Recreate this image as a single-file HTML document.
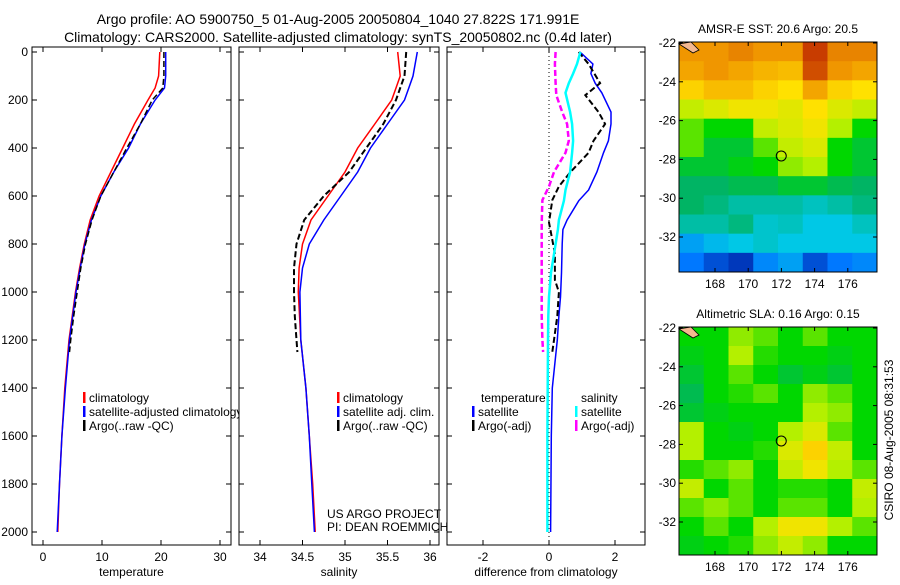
<!DOCTYPE html>
<html><head><meta charset="utf-8"><style>
body{margin:0;background:#fff}
svg text{font-family:"Liberation Sans",sans-serif;font-size:12px;fill:#000}
</style></head><body>
<svg id="c" width="900" height="580" viewBox="0 0 900 580" xmlns="http://www.w3.org/2000/svg">
<rect width="900" height="580" fill="#fff"/>
<text x="338" y="24" text-anchor="middle" style="font-size:14px">Argo profile: AO 5900750_5 01-Aug-2005 20050804_1040 27.822S 171.991E</text>
<text x="338" y="42" text-anchor="middle" style="font-size:14px">Climatology: CARS2000. Satellite-adjusted climatology: synTS_20050802.nc (0.4d later)</text>
<g id="g"></g>
<text transform="translate(893,440) rotate(-90)" text-anchor="middle">CSIRO 08-Aug-2005 08:31:53</text>
</svg>
<script>
// ---- data ----
const depthTicks=[0,200,400,600,800,1000,1200,1400,1600,1800,2000];
const tempTicks=[0,10,20,30];
const salTicks=[34,34.5,35,35.5,36];
const salTickLabels=["34","34.5","35","35.5","36"];
const diffTicks=[-2,0,2];
const depths=[0,100,150,200,300,400,500,600,700,800,900,1000,1200,1400,1600,1800,2000];
const tempClim=[19.8,19.6,19,17.8,15.5,13.5,11.5,9.5,8,7,6.2,5.5,4.4,3.7,3.2,2.8,2.5];
const tempSat=[20.8,20.8,20.6,19,16.5,14.5,12,9.8,8.2,7.1,6.3,5.6,4.5,3.8,3.2,2.8,2.4];
const argoDepths=[0,100,150,200,300,400,500,600,700,800,900,1000,1100,1200,1250];
const tempArgo=[20.5,20.5,20.3,18.5,16.5,14.2,12,9.8,8.3,7.2,6.4,5.8,5.2,4.7,4.5];
const salClim=[35.62,35.65,35.6,35.55,35.35,35.15,35.0,34.8,34.6,34.5,34.46,34.45,34.48,34.54,34.58,34.62,34.65];
const salSat=[35.85,35.8,35.75,35.7,35.5,35.3,35.15,34.95,34.75,34.58,34.5,34.47,34.48,34.54,34.58,34.61,34.64];
const salArgo=[35.72,35.7,35.65,35.6,35.45,35.25,35.05,34.75,34.52,34.43,34.4,34.4,34.41,34.43,34.44];
const diffDepths=[0,50,90,130,170,250,300,370,420,500,575,620,700,740,800,920,1020,1100,1200,1400,1600,2000];
const dTempSat=[0.94,1.33,1.27,1.4,1.6,1.88,1.88,1.8,1.65,1.45,1.2,0.9,0.55,0.42,0.4,0.38,0.35,0.3,0.25,0.1,0.07,0.05];
const dArgoDepths=[0,50,130,180,250,300,370,420,500,560,617,710,840,950,1000,1100,1200,1250];
const dTempArgo=[0.9,1.2,1.55,1.1,1.5,1.7,1.35,1.2,0.65,0.3,0.1,0.0,0.18,0.18,0.3,0.25,0.15,0.1];
const dSalSat=[0.95,0.85,0.73,0.6,0.5,0.64,0.7,0.73,0.7,0.64,0.5,0.45,0.3,0.27,0.2,0.06,0.0,-0.02,-0.03,-0.04,-0.05,-0.05];
const dSalArgo=[0.2,0.18,0.2,0.22,0.4,0.55,0.6,0.5,0.15,0.0,-0.2,-0.22,-0.22,-0.22,-0.22,-0.22,-0.2,-0.18];
const lonTicks=[168,170,172,174,176];
const latTicks=[-22,-24,-26,-28,-30,-32];
const sstGrid=[
[0.8,0.8,0.82,0.8,0.8,0.9,0.82,0.82],
[0.78,0.8,0.78,0.76,0.75,0.88,0.8,0.78],
[0.72,0.75,0.75,0.72,0.7,0.78,0.72,0.7],
[0.62,0.65,0.68,0.68,0.66,0.7,0.65,0.62],
[0.55,0.5,0.5,0.62,0.65,0.68,0.6,0.5],
[0.55,0.45,0.45,0.55,0.62,0.65,0.5,0.45],
[0.45,0.45,0.48,0.5,0.58,0.6,0.5,0.45],
[0.4,0.4,0.42,0.42,0.45,0.45,0.42,0.4],
[0.4,0.38,0.35,0.35,0.35,0.33,0.35,0.38],
[0.35,0.35,0.38,0.32,0.33,0.3,0.3,0.33],
[0.25,0.28,0.3,0.32,0.3,0.3,0.3,0.3],
[0.2,0.15,0.12,0.22,0.25,0.15,0.2,0.22]];
const slaGrid=[
[0.5,0.5,0.58,0.55,0.5,0.55,0.5,0.5],
[0.48,0.5,0.6,0.52,0.5,0.5,0.48,0.5],
[0.45,0.5,0.55,0.5,0.45,0.48,0.45,0.5],
[0.42,0.5,0.52,0.55,0.5,0.58,0.55,0.5],
[0.45,0.48,0.5,0.5,0.5,0.6,0.58,0.5],
[0.6,0.5,0.48,0.5,0.6,0.65,0.55,0.5],
[0.6,0.5,0.5,0.52,0.65,0.72,0.62,0.5],
[0.52,0.55,0.58,0.5,0.62,0.68,0.6,0.55],
[0.62,0.5,0.55,0.5,0.52,0.52,0.5,0.62],
[0.55,0.58,0.55,0.5,0.55,0.55,0.5,0.6],
[0.5,0.55,0.5,0.6,0.68,0.68,0.6,0.55],
[0.48,0.5,0.52,0.58,0.62,0.58,0.5,0.5]];
const floatLon=171.991, floatLat=-27.822;

// ---- drawing ----
const NS="http://www.w3.org/2000/svg";
const G=document.getElementById('g');
function mk(tag,attrs,parent){const e=document.createElementNS(NS,tag);for(const k in attrs)e.setAttribute(k,attrs[k]);(parent||G).appendChild(e);return e;}
function txt(x,y,s,anchor,parent){const t=mk('text',{x:x,y:y,'text-anchor':anchor||'start'},parent);t.textContent=s;return t;}
const yD=d=>52+d*0.24;
const panels=[
 {x0:32,x1:231,fx:v=>43+v*5.9,ticks:tempTicks,labels:tempTicks.map(String),title:'temperature',name:'temperature-panel'},
 {x0:239,x1:439,fx:v=>260+(v-34)*85,ticks:salTicks,labels:salTickLabels,title:'salinity',name:'salinity-panel'},
 {x0:447,x1:645,fx:v=>549+v*33,ticks:diffTicks,labels:diffTicks.map(String),title:'difference from climatology',name:'difference-panel'}];
function line(fx,ds,vs,color,dash,w,name){
 const p=vs.map((v,i)=>(i?'L':'M')+fx(v).toFixed(1)+','+yD(ds[i]).toFixed(1)).join('');
 const e=mk('path',{d:p,fill:'none',stroke:color,'stroke-width':w||1.5,'stroke-dasharray':dash||'none'});
 
 
}
panels.forEach((P,pi)=>{
 const r=mk('rect',{x:P.x0,y:47,width:P.x1-P.x0,height:498,fill:'#fff',stroke:'#000','stroke-width':1});
 
 
 P.ticks.forEach((t,i)=>{const x=P.fx(t);mk('line',{x1:x,x2:x,y1:545,y2:540,stroke:'#000'});mk('line',{x1:x,x2:x,y1:47,y2:52,stroke:'#000'});
  const l=txt(x,561,P.labels[i],'middle');});
 depthTicks.forEach(d=>{const y=yD(d);mk('line',{x1:P.x0,x2:P.x0+5,y1:y,y2:y,stroke:'#000'});mk('line',{x1:P.x1,x2:P.x1-5,y1:y,y2:y,stroke:'#000'});
  if(pi==0){const l=txt(28,y+4,String(d),'end');}});
 const at=txt((P.x0+P.x1)/2,576,P.title,'middle');
 
 
 if(pi==0){
  line(P.fx,depths,tempClim,'#f00',null,1.5,'temp-climatology-line');
  line(P.fx,depths,tempSat,'#00f',null,1.5,'temp-satellite-line');
  line(P.fx,argoDepths,tempArgo,'#000','6,3',1.5,'temp-argo-line');
 } else if(pi==1){
  line(P.fx,depths,salClim,'#f00',null,1.5,'sal-climatology-line');
  line(P.fx,depths,salSat,'#00f',null,1.5,'sal-satellite-line');
  line(P.fx,argoDepths,salArgo,'#000','6,3',2,'sal-argo-line');
 } else {
  mk('line',{x1:549,x2:549,y1:52,y2:545,stroke:'#000','stroke-dasharray':'1,3'});
  line(P.fx,diffDepths,dTempSat,'#00f',null,1.5,'diff-temp-satellite-line');
  line(P.fx,dArgoDepths,dTempArgo,'#000','6,3',2,'diff-temp-argo-line');
  line(P.fx,diffDepths,dSalSat,'#0ff',null,2.5,'diff-sal-satellite-line');
  line(P.fx,dArgoDepths,dSalArgo,'#f0f','6,3',2.5,'diff-sal-argo-line');
 }
});
// legends
function leg(x,y,color,label,name){mk('rect',{x:x,y:y-10,width:2.5,height:11,fill:color});const t=txt(x+6,y,label);}
const clip=mk('clipPath',{id:'cp1'});mk('rect',{x:32,y:47,width:207,height:498},clip);
const lg1=mk('g',{'clip-path':'url(#cp1)'});
function leg1(x,y,color,label,name){mk('rect',{x:x,y:y-10,width:2.5,height:11,fill:color},lg1);const t=txt(x+6,y,label,'start',lg1);}
leg1(83,402,'#f00','climatology','legend-climatology');
leg1(83,416,'#00f','satellite-adjusted climatology','legend-satellite');
leg1(83,430,'#000','Argo(..raw -QC)','legend-argo');
leg(337,402,'#f00','climatology','legend-sal-climatology');
leg(337,416,'#00f','satellite adj. clim.','legend-sal-satellite');
leg(337,430,'#000','Argo(..raw -QC)','legend-sal-argo');
txt(481,402,'temperature');
txt(581,402,'salinity');
leg(472,416,'#00f','satellite','legend-diff-temp-sat');
leg(472,430,'#000','Argo(-adj)','legend-diff-temp-argo');
leg(575,416,'#0ff','satellite','legend-diff-sal-sat');
leg(575,430,'#f0f','Argo(-adj)','legend-diff-sal-argo');
txt(327,518,'US ARGO PROJECT');
txt(327,531,'PI: DEAN ROEMMICH');
// maps
const cmapStops=[[0.1,[0,40,170]],[0.2,[0,120,255]],[0.3,[0,200,230]],[0.4,[0,180,100]],[0.5,[0,215,0]],[0.6,[180,240,0]],[0.7,[255,225,0]],[0.8,[240,150,0]],[0.9,[200,60,0]]];
function cmap(v){
 if(v<=cmapStops[0][0])return 'rgb('+cmapStops[0][1]+')';
 for(let i=1;i<cmapStops.length;i++){if(v<=cmapStops[i][0]){const a=cmapStops[i-1],b=cmapStops[i],t=(v-a[0])/(b[0]-a[0]);
  return 'rgb('+a[1].map((c,k)=>Math.round(c+(b[1][k]-c)*t)).join(',')+')';}}
 return 'rgb('+cmapStops[cmapStops.length-1][1]+')';
}
function map(y22,y32,bottom,grid,title,name){
 const fx=lon=>715+(lon-168)*16.6, fy=lat=>y22+(-22-lat)*(y32-y22)/10;
 const x0=679,x1=877,y0=fy(-22)-1,rows=grid.length,cols=grid[0].length;
 const cw=(x1-x0)/cols,ch=(bottom-y0)/rows;
 const g=mk('g',{});
 
 
 grid.forEach((row,i)=>row.forEach((v,j)=>{const c=mk('rect',{x:x0+j*cw,y:y0+i*ch,width:cw+0.5,height:ch+0.5,fill:cmap(v)},g);
  
  }));
 mk('path',{d:`M${x0},${y0+2} l12,-2 l8,8 l-6,3 z`,fill:'#f4b890',stroke:'#000','stroke-width':0.8});
 mk('rect',{x:x0,y:y0,width:x1-x0,height:bottom-y0,fill:'none',stroke:'#000'});
 lonTicks.forEach(l=>{const x=fx(l);mk('line',{x1:x,x2:x,y1:bottom,y2:bottom-4,stroke:'#000'});mk('line',{x1:x,x2:x,y1:y0,y2:y0+4,stroke:'#000'});
  const t=txt(x,bottom+16,String(l),'middle');});
 latTicks.forEach(l=>{const y=fy(l);mk('line',{x1:x0,x2:x0+4,y1:y,y2:y,stroke:'#000'});mk('line',{x1:x1,x2:x1-4,y1:y,y2:y,stroke:'#000'});
  const t=txt(x0-3,y+4,String(l),'end');});
 const c=mk('circle',{cx:fx(floatLon),cy:fy(floatLat),r:5,fill:'none',stroke:'#000','stroke-width':1});
 
 
 const t=txt((x0+x1)/2,y0-9,title,'middle');
 
 
}
map(43,237,272,sstGrid,'AMSR-E SST: 20.6 Argo: 20.5','sst-map');
map(328,522,555,slaGrid,'Altimetric SLA: 0.16 Argo: 0.15','sla-map');
</script>
</body></html>
